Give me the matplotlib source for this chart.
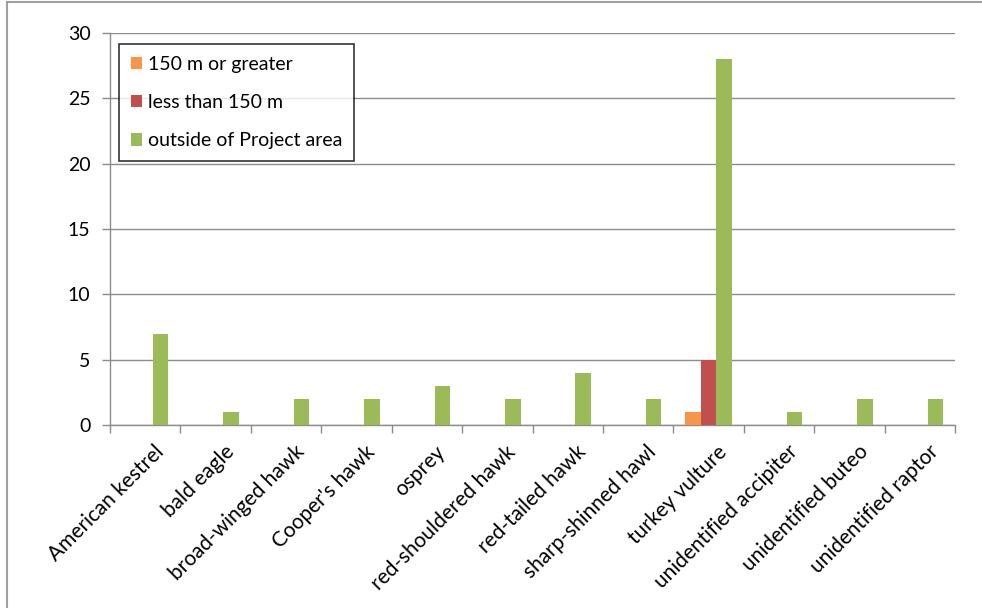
import matplotlib
matplotlib.use("Agg")
import matplotlib.pyplot as plt
import numpy as np
from matplotlib.lines import Line2D

categories = ["American kestrel", "bald eagle", "broad-winged hawk", "Cooper's hawk",
              "osprey", "red-shouldered hawk", "red-tailed hawk", "sharp-shinned hawl",
              "turkey vulture", "unidentified accipiter", "unidentified buteo",
              "unidentified raptor"]
series_names = ["150 m or greater", "less than 150 m", "outside of Project area"]
s_150_or_greater = [0, 0, 0, 0, 0, 0, 0, 0, 1, 0, 0, 0]
s_less_than_150 = [0, 0, 0, 0, 0, 0, 0, 0, 5, 0, 0, 0]
s_outside = [7, 1, 2, 2, 3, 2, 4, 2, 28, 1, 2, 2]
colors = ["#F79646", "#C0504D", "#9BBB59"]
yticks = [0, 5, 10, 15, 20, 25, 30]

plt.rcParams['font.family'] = ['Lato', 'DejaVu Sans']

fig = plt.figure(figsize=(9.82, 6.08), dpi=100)
ax = fig.add_axes([110/982, 1-425/608, (955-110)/982, (425-33)/608])

x = np.arange(len(categories))
w = 0.22
for i, (vals, name, c) in enumerate(zip([s_150_or_greater, s_less_than_150, s_outside], series_names, colors)):
    ax.bar(x + (i-1)*w, vals, width=w, color=c, label=name, linewidth=0, zorder=3)

ax.set_xlim(-0.5, len(categories)-0.5)
ax.set_ylim(0, 30)
ax.set_yticks(yticks)
ax.set_yticklabels([str(v) for v in yticks], fontsize=14)
ax.yaxis.grid(True, color="#8c8c8c", linewidth=1)
ax.set_axisbelow(True)
ax.set_xticks(np.arange(len(categories)+1)-0.5)
ax.set_xticklabels([])
ax.tick_params(axis='x', length=6, color="#8c8c8c", direction='out', width=1)
ax.tick_params(axis='y', length=6, color="#8c8c8c", direction='out', width=1, pad=8)
for s in ['top', 'right']:
    ax.spines[s].set_visible(False)
for s in ['left', 'bottom']:
    ax.spines[s].set_color("#8c8c8c")
    ax.spines[s].set_linewidth(1)

for xi, lab in zip(x, categories):
    ax.annotate(lab, xy=(xi, 0), xycoords=('data', 'axes fraction'),
                xytext=(6, -12), textcoords='offset points',
                rotation=45, ha='right', va='top', rotation_mode='anchor', fontsize=15)

leg = ax.legend(loc='upper left', bbox_to_anchor=(9/845, 1-11/392), fontsize=14,
                frameon=True, fancybox=False, edgecolor='black', handlelength=0.6,
                handleheight=0.6, handletextpad=0.3, labelspacing=1.1,
                borderpad=0.6, borderaxespad=0)
leg.get_frame().set_linewidth(1.2)

fig.add_artist(Line2D([6.5/982, 6.5/982], [0, 1-2/608], transform=fig.transFigure, color="#a0a0a0", linewidth=1.5))
fig.add_artist(Line2D([6.5/982, 1], [1-2/608, 1-2/608], transform=fig.transFigure, color="#a0a0a0", linewidth=1.5))

fig.savefig("out.png", dpi=100)
